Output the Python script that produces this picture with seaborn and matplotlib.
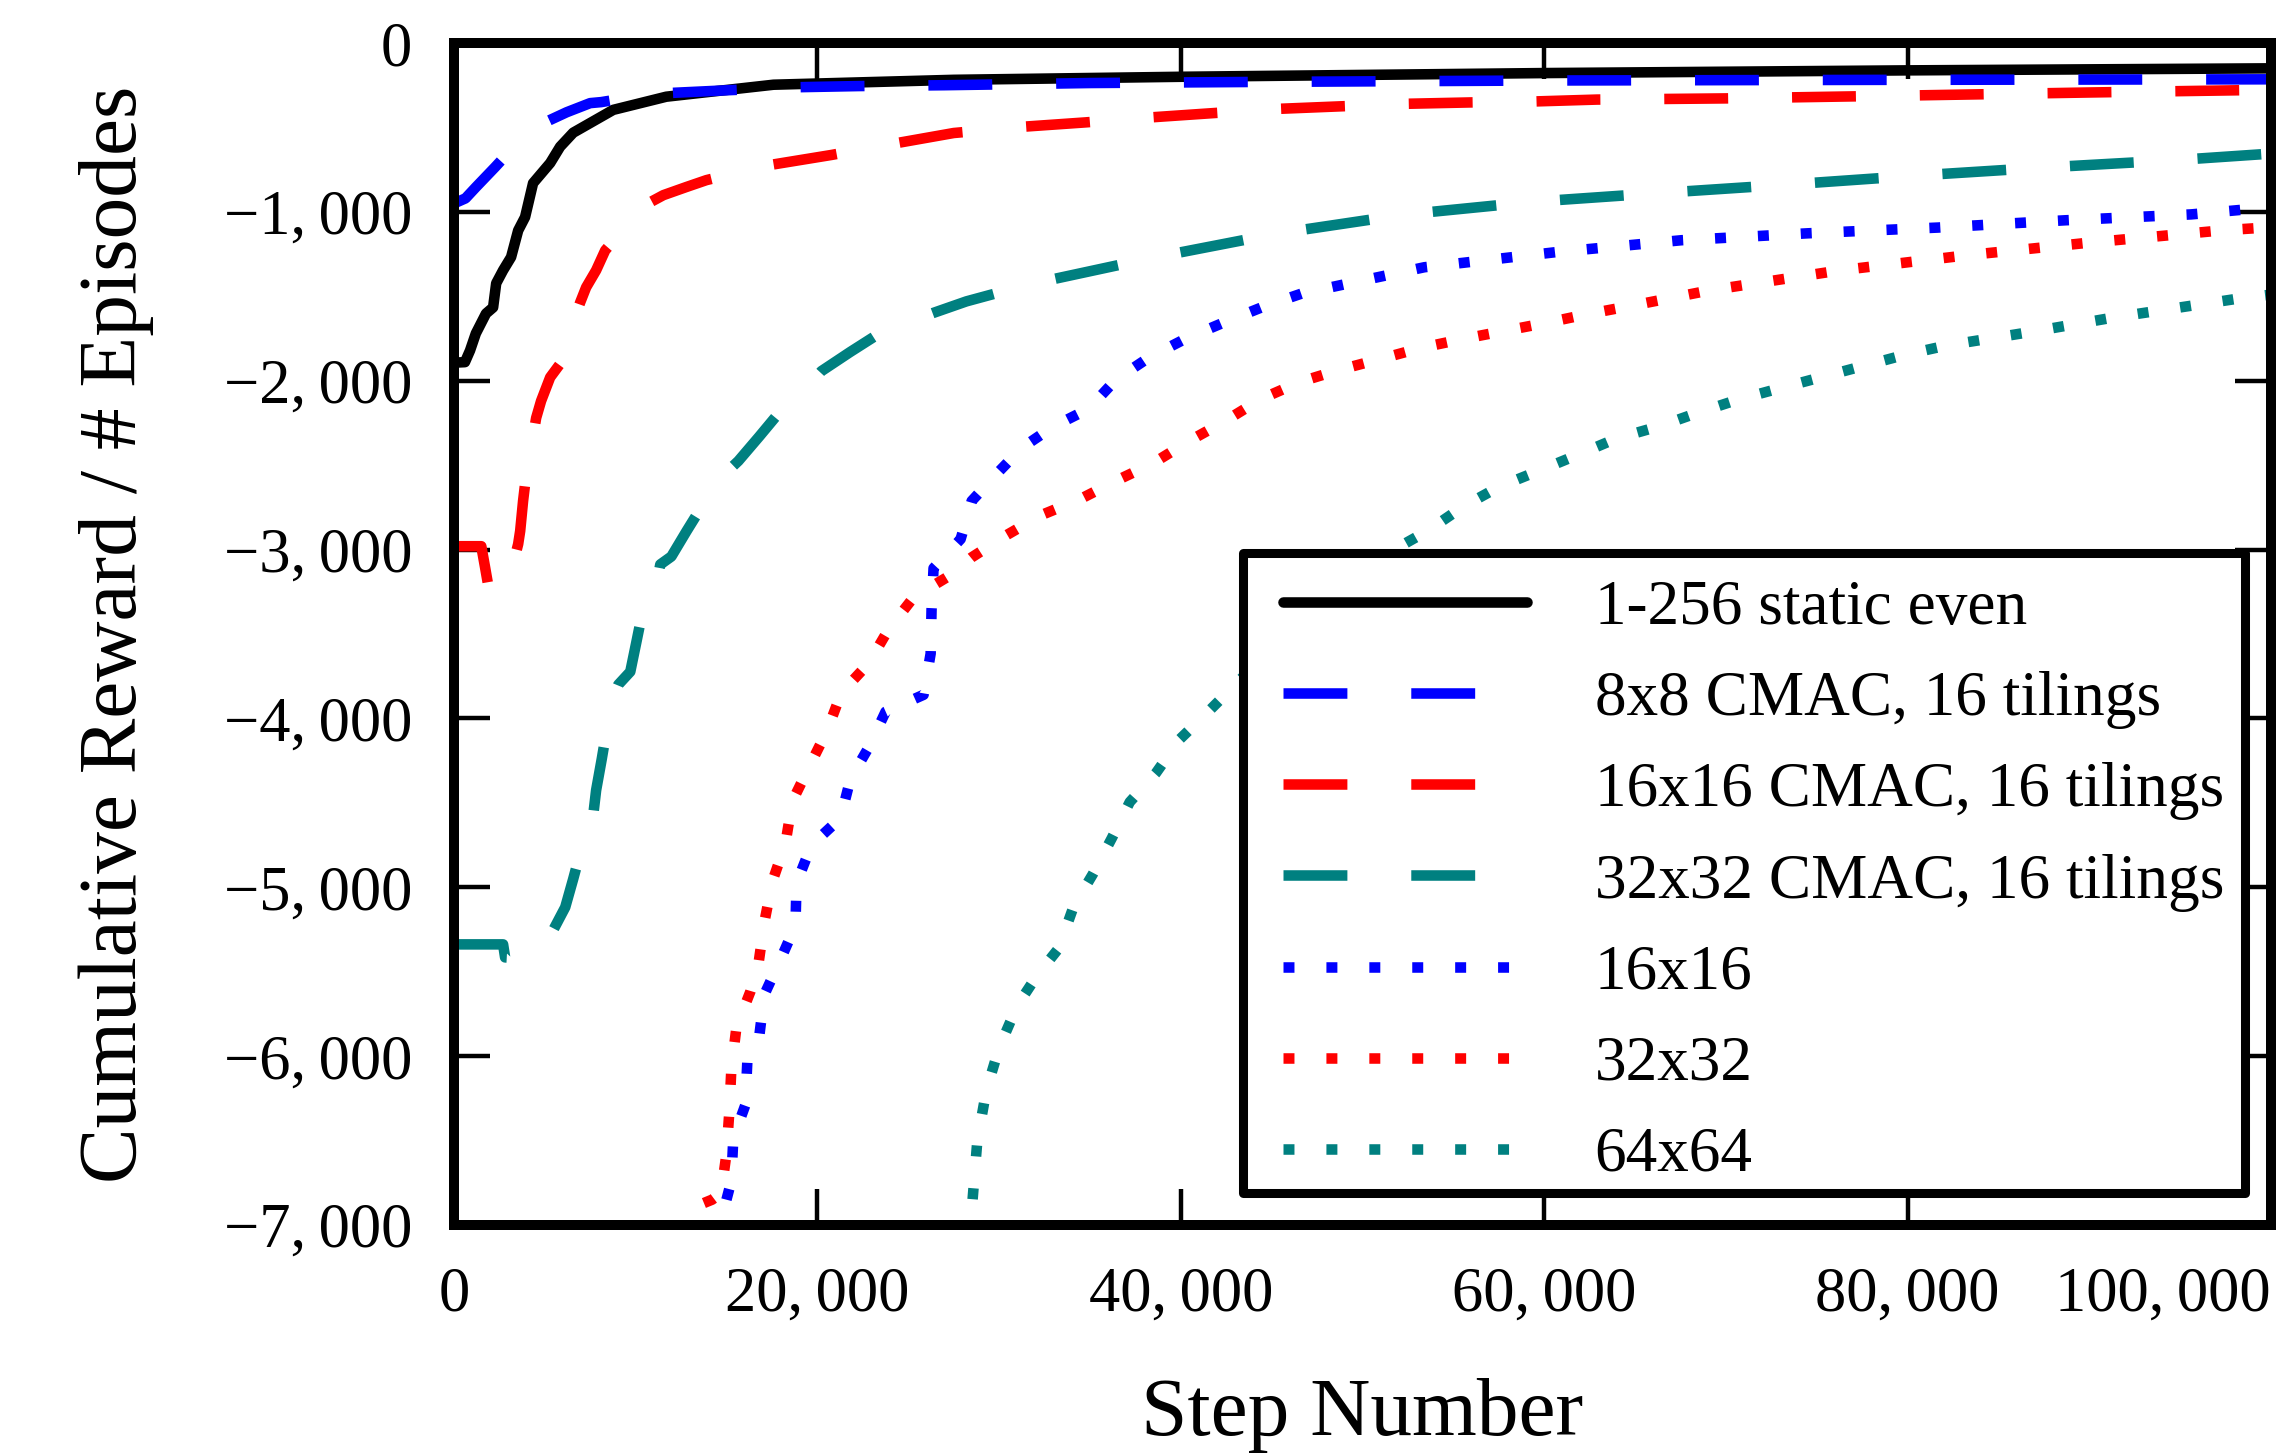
import matplotlib
matplotlib.use("Agg")
import matplotlib.pyplot as plt
from matplotlib.patches import Rectangle
import seaborn as sns

# ---------------- data ----------------
series_names = ["1-256 static even", "8x8 CMAC, 16 tilings", "16x16 CMAC, 16 tilings",
                "32x32 CMAC, 16 tilings", "16x16", "32x32", "64x64"]

static_x = [0, 600, 880, 1200, 1760, 2150, 2320, 2700, 3140, 3530, 3910, 4350, 5290, 5840,
            6560, 8760, 11680, 17580, 27500, 40000, 60000, 80000, 100000]
static_y = [-1893, -1890, -1821, -1720, -1602, -1566, -1423, -1346, -1268, -1110, -1031, -830,
            -711, -614, -531, -396, -318, -247, -218, -200, -178, -162, -150]

cmac8_x = [0, 630, 1210, 2260, 3500, 4900, 6200, 7490, 8100, 9800, 11680, 15200, 18800,
           22300, 27000, 35000, 45000, 60000, 80000, 100000]
cmac8_y = [-950, -920, -853, -735, -590, -475, -410, -356, -350, -320, -297, -279, -262,
           -255, -250, -237, -230, -222, -218, -215]

cmac16_x = [0, 1500, 1700, 1870, 2400, 3100, 3530, 3640, 3800, 3910, 4520, 4790, 5290, 5840,
            6400, 6940, 7270, 7820, 8320, 9500, 10690, 11520, 12780, 13890, 15500, 17410,
            20770, 24350, 27500, 31300, 34770, 38400, 41800, 45350, 48800, 52400, 55900,
            59500, 62900, 70000, 80000, 90000, 100000]
cmac16_y = [-2980, -2980, -3100, -3205, -3260, -3150, -2967, -2890, -2712, -2612, -2220, -2120,
            -1980, -1900, -1700, -1537, -1447, -1346, -1228, -1080, -949, -901, -853, -812,
            -770, -722, -663, -593, -533, -496, -470, -440, -415, -390, -375, -360, -352,
            -346, -335, -328, -311, -293, -277]

cmac32_x = [0, 2700, 2810, 3700, 4630, 4900, 5460, 6120, 6560, 7000, 7110, 7660, 7820, 8130,
            8430, 8650, 9040, 9700, 10050, 10410, 11080, 11350, 11960, 12800, 13720, 14270,
            14660, 15650, 16800, 17960, 19060, 20220, 21800, 23360, 24460, 26390, 28200,
            31660, 38430, 45380, 52380, 59400, 66400, 73450, 80500, 87550, 94520, 100000]
cmac32_y = [-5338, -5338, -5415, -5420, -5373, -5266, -5253, -5118, -4950, -4773, -4625, -4573,
            -4425, -4240, -4049, -3901, -3800, -3723, -3540, -3349, -3248, -3088, -3041, -2890,
            -2730, -2653, -2576, -2475, -2330, -2180, -2079, -1943, -1830, -1723, -1675, -1598,
            -1530, -1429, -1272, -1127, -1015, -940, -888, -838, -785, -737, -695, -655]

grid16_x = [14650, 14700, 15260, 15370, 16030, 16140, 16800, 17080, 18020, 18790, 18850, 19670,
            21270, 21820, 22870, 23750, 25840, 26230, 26280, 26390, 27880, 28490, 29860, 31240,
            32950, 34930, 36420, 38240, 40280, 42370, 44580, 46670, 53400, 60610, 67550, 74500,
            81660, 88650, 95600, 100000]
grid16_y = [-7100, -6970, -6740, -6485, -6290, -6035, -5880, -5635, -5415, -5226, -4975, -4750,
            -4590, -4357, -4162, -3960, -3860, -3616, -3355, -3110, -2938, -2712, -2552, -2398,
            -2273, -2166, -1994, -1863, -1750, -1655, -1560, -1483, -1328, -1239, -1168, -1127,
            -1093, -1050, -1015, -972]

grid32_x = [12300, 12950, 14200, 14700, 14990, 15150, 15260, 15540, 16310, 16750, 17080, 17520,
            18240, 18620, 19620, 20520, 21320, 22810, 23910, 25290, 27220, 28490, 30300, 32290,
            34440, 36480, 38460, 40440, 42430, 44410, 46560, 48710, 51020, 53230, 55600, 57860,
            60170, 62490, 64800, 69100, 76300, 83260, 90200, 97370, 100000]
grid32_y = [-7050, -6905, -6850, -6810, -6580, -6330, -6080, -5830, -5617, -5456, -5206, -4965,
            -4740, -4490, -4270, -4075, -3847, -3675, -3473, -3283, -3158, -3046, -2921, -2797,
            -2702, -2590, -2489, -2358, -2239, -2108, -2007, -1936, -1870, -1805, -1751, -1704,
            -1656, -1603, -1556, -1465, -1346, -1257, -1180, -1109, -1091]

grid64_x = [28300, 28500, 28800, 29300, 30000, 31000, 32100, 33280, 34100, 35150, 36200, 37190,
            38630, 39950, 41600, 43140, 45500, 48000, 50000, 51740, 53610, 55540, 57530, 59730,
            61880, 63970, 66290, 68490, 70690, 72950, 75210, 79900, 82160, 86730, 91360, 98300,
            100000]
grid64_y = [-7100, -6900, -6500, -6200, -5950, -5700, -5520, -5361, -5113, -4923, -4709, -4495,
            -4323, -4122, -3950, -3784, -3530, -3280, -3110, -3000, -2887, -2745, -2627, -2532,
            -2437, -2342, -2271, -2188, -2111, -2045, -1980, -1845, -1791, -1712, -1625, -1512,
            -1490]

xtick_values = [0, 20000, 40000, 60000, 80000, 100000]
xtick_labels = ["0", "20,\u2009000", "40,\u2009000", "60,\u2009000", "80,\u2009000", "100,\u2009000"]
ytick_values = [0, -1000, -2000, -3000, -4000, -5000, -6000, -7000]
ytick_labels = ["0", "\u22121,\u2009000", "\u22122,\u2009000", "\u22123,\u2009000", "\u22124,\u2009000",
                "\u22125,\u2009000", "\u22126,\u2009000", "\u22127,\u2009000"]

# ---------------- styling ----------------
sns.set_theme(style="white")
plt.rcParams.update({
    "font.family": ["Liberation Serif", "DejaVu Serif"],
    "lines.scale_dashes": False,
    "axes.edgecolor": "black",
    "axes.linewidth": 7.2,
    "text.color": "black",
    "axes.labelcolor": "black",
    "xtick.color": "black",
    "ytick.color": "black",
})

DASH = (0, (46, 46))
DOT = (0, (7.9, 23.0))
styles = [
    ("black", "-"),
    ("#0000ff", DASH),
    ("#ff0000", DASH),
    ("#008080", DASH),
    ("#0000ff", DOT),
    ("#ff0000", DOT),
    ("#008080", DOT),
]
data = [(static_x, static_y), (cmac8_x, cmac8_y), (cmac16_x, cmac16_y), (cmac32_x, cmac32_y),
        (grid16_x, grid16_y), (grid32_x, grid32_y), (grid64_x, grid64_y)]

fig = plt.figure(figsize=(22.77, 14.53), dpi=100)
ax = fig.add_axes([0.1994, 0.1569, 0.798, 0.8135])

handles = []
for name, (xs, ys), (col, ls) in zip(series_names, data, styles):
    sns.lineplot(x=xs, y=ys, ax=ax, color=col, linestyle=ls, linewidth=7.6,
                 sort=False, estimator=None)
    ln = ax.lines[-1]
    ln.set_label(name)
    handles.append(ln)

ax.set_xlim(0, 100000)
ax.set_ylim(-7000, 0)
ax.set_xticks(xtick_values)
ax.set_xticklabels(xtick_labels)
ax.set_yticks(ytick_values)
ax.set_yticklabels(ytick_labels)
ax.tick_params(axis="both", which="both", direction="in", length=26, width=3.2,
               top=True, right=True, bottom=True, left=True, labelsize=45, pad=30)
ax.get_xticklabels()[-1].set_horizontalalignment("right")

ax.set_xlabel("Step Number", fontsize=60)
ax.set_ylabel("Cumulative Reward / # Episodes", fontsize=60)
ax.xaxis.set_label_coords(0.5, -0.129)
ax.yaxis.set_label_coords(-0.165, 0.5)

# legend frame
frame = Rectangle((0.4342, 0.0271), 0.5515, 0.5415, transform=ax.transAxes,
                  facecolor="white", edgecolor="black", linewidth=6.5, zorder=4,
                  joinstyle="round")
ax.add_patch(frame)
leg = ax.legend(handles=handles, labels=series_names, loc="upper left",
                bbox_to_anchor=(0.4562, 0.5457), frameon=False, borderpad=0,
                borderaxespad=0, fontsize=45.5, handlelength=3.86, handletextpad=1.07,
                labelspacing=0.52)
leg.set_zorder(5)

fig.savefig("out.png", dpi=100)
